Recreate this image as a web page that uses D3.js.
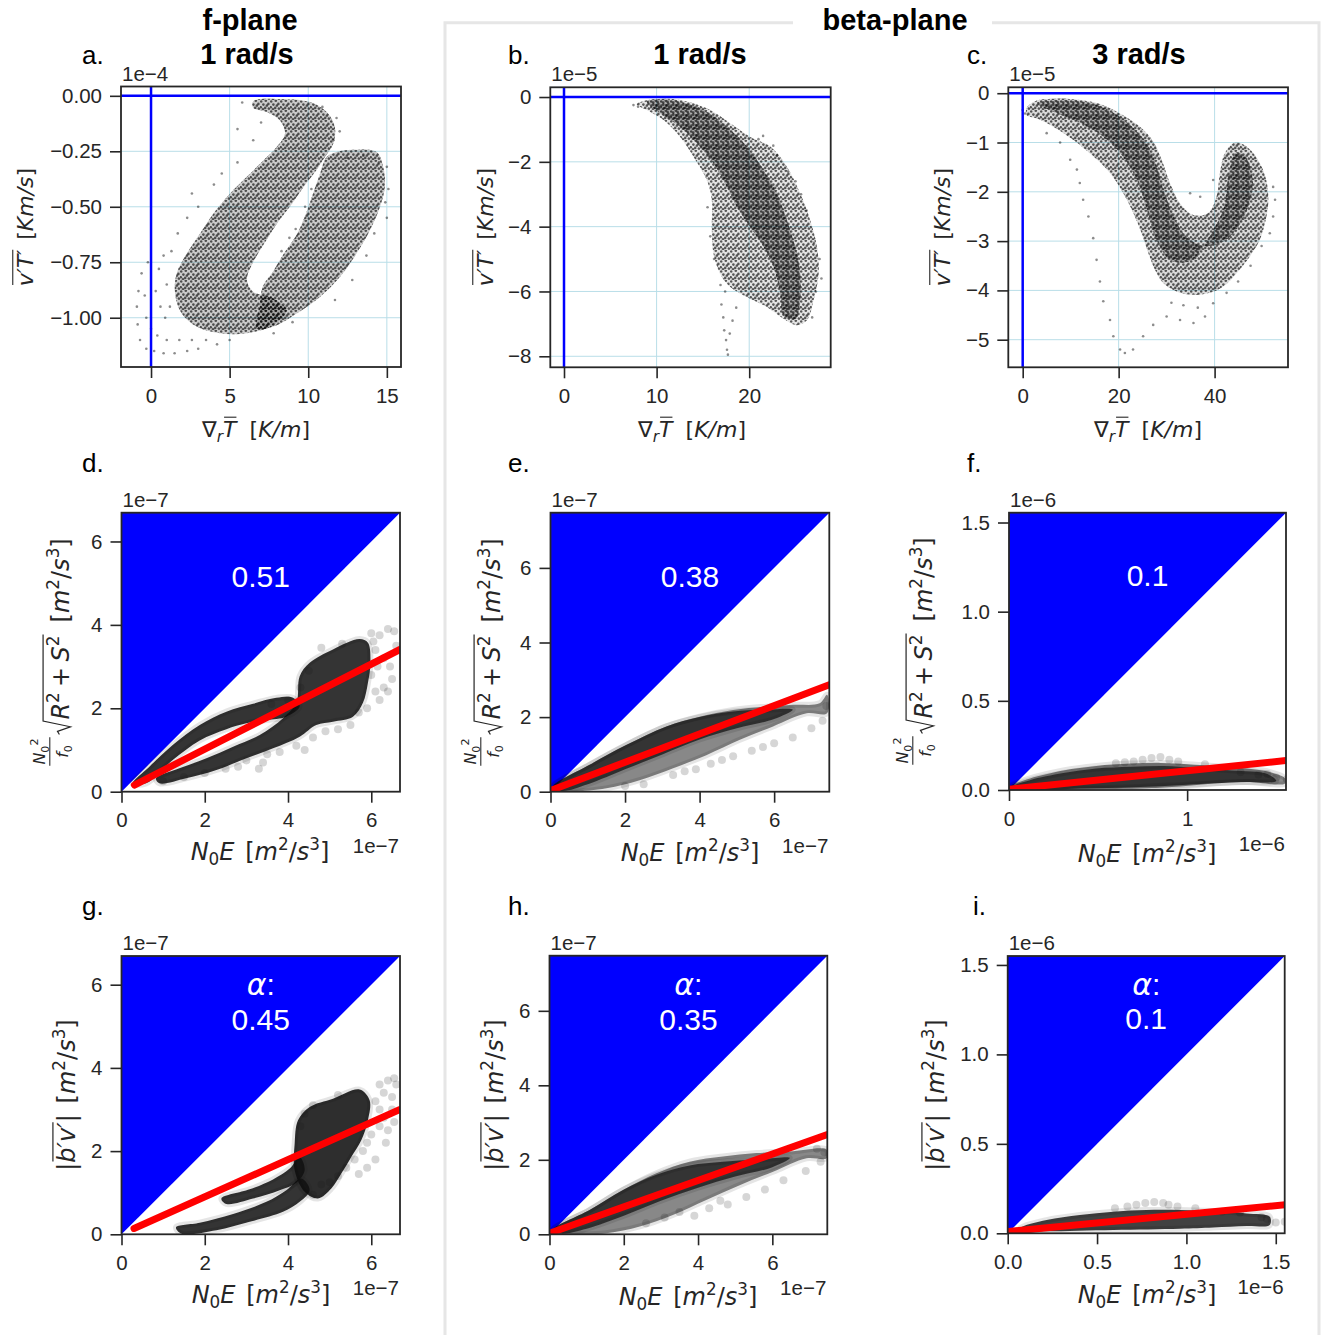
<!DOCTYPE html>
<html>
<head>
<meta charset="utf-8">
<script src="https://cdn.jsdelivr.net/npm/d3@7"></script>
<style>
  body { margin: 0; background: #fff; }
</style>
</head>
<body>
<script>
// ---- data ----
// top row: x = grad_r T  [K/m], y = v'T' (units of the offset, 1e-4 / 1e-5 / 1e-5)
const xTicksA = [0, 5, 10, 15], yTicksA = [0, -0.25, -0.5, -0.75, -1];
const xTicksB = [0, 10, 20], yTicksB = [0, -2, -4, -6, -8];
const xTicksC = [0, 20, 40], yTicksC = [0, -1, -2, -3, -4, -5];
const ticksDE = [0, 2, 4, 6];
const xTicksF = [0, 1], yTicksF = [0, 0.5, 1, 1.5];
const ticksI = [0, 0.5, 1, 1.5];

const offsets = ["1e\u22124", "1e\u22125", "1e\u22125", "1e\u22127", "1e\u22127", "1e\u22126", "1e\u22127", "1e\u22127", "1e\u22126"];
const colTitles = ["1 rad/s", "1 rad/s", "3 rad/s"];
const panelLetters = ["a.", "b.", "c.", "d.", "e.", "f.", "g.", "h.", "i."];
const fitRatios = ["0.51", "0.38", "0.1", "0.45", "0.35", "0.1"];

// panel a: outline of the two dense arms + sparse points
const aLeftArm = [[6.50,-0.024],[8.41,-0.015],[10.11,-0.028],[11.17,-0.073],[11.69,-0.141],[11.59,-0.216],[11.06,-0.276],[10.5,-0.336],[9.7,-0.411],[8.9,-0.493],[8.0,-0.576],[7.2,-0.666],[6.45,-0.756],[6.1,-0.831],[6.50,-0.883],[7.78,-0.913],[8.62,-0.966],[7.78,-1.033],[6.08,-1.070],[4.39,-1.070],[2.90,-1.040],[1.95,-0.981],[1.53,-0.891],[1.63,-0.801],[2.27,-0.711],[3.11,-0.621],[3.96,-0.531],[5.02,-0.441],[6.08,-0.366],[7.14,-0.291],[7.99,-0.231],[8.52,-0.171],[8.20,-0.111],[7.35,-0.073],[6.50,-0.054]];
const aRightArm = [[11.17,-0.276],[11.80,-0.253],[12.86,-0.243],[14.34,-0.253],[14.77,-0.321],[14.87,-0.411],[14.56,-0.501],[13.92,-0.606],[13.07,-0.711],[12.01,-0.816],[10.74,-0.906],[9.26,-0.981],[7.78,-1.040],[6.72,-1.048],[6.9,-0.951],[7.1,-0.861],[7.75,-0.793],[8.45,-0.711],[9.3,-0.621],[9.85,-0.531],[10.3,-0.441],[10.75,-0.351]];
const aOut = [[-0.6,-0.80],[-0.8,-0.88],[-0.9,-0.95],[-0.85,-1.03],[-0.7,-1.10],[-0.3,-1.14],[0.2,-1.15],[0.8,-1.16],[1.5,-1.16],[2.3,-1.15],[3.0,-1.14],[-0.2,-0.75],[-0.4,-0.90],[-0.3,-1.0],[0.0,-1.05],[0.4,-1.08],[1.0,-1.10],[1.8,-1.10],[2.6,-1.10],[0.5,-0.78],[0.3,-0.88],[0.6,-0.95],[0.9,-1.0],[1.2,-0.95],[1.0,-0.85],[0.8,-0.72],[1.3,-0.70],[1.7,-0.62],[2.3,-0.55],[3.0,-0.50],[2.6,-0.44],[4.0,-0.40],[4.5,-0.35],[5.5,-0.30],[6.5,-0.20],[5.5,-0.15],[7.0,-0.12],[5.8,-0.03],[3.5,-1.10],[4.2,-1.12],[5.0,-1.10],[7.8,-1.07],[9.0,-1.02],[15.0,-0.32],[15.1,-0.42],[14.9,-0.48],[15.0,-0.55],[14.2,-0.62],[13.7,-0.72],[12.8,-0.83],[11.7,-0.92],[12.5,-0.28],[13.5,-0.27],[14.5,-0.30],[9.2,-0.60],[8.8,-0.64],[9.8,-0.50],[8.3,-0.70],[10.2,-0.42],[11.8,-0.10],[11.6,-0.20],[10.9,-0.05],[12.0,-0.16]];

// panel b
const bFringe = [[7.86,-0.22],[9.66,-0.07],[12.54,-0.09],[15.42,-0.35],[17.95,-0.81],[20.11,-1.23],[22.27,-1.53],[24.07,-2.15],[25.51,-2.98],[26.59,-3.80],[27.32,-4.62],[27.50,-5.45],[26.95,-6.27],[26.23,-6.89],[25.15,-7.04],[23.71,-6.84],[21.91,-6.48],[19.75,-6.17],[17.95,-5.86],[16.86,-5.45],[16.14,-4.83],[15.96,-4.01],[15.96,-3.18],[15.42,-2.56],[13.98,-1.84],[12.54,-1.23],[10.74,-0.71],[8.94,-0.40]];
const bCore = [[8.94,-0.14],[11.82,-0.11],[15.06,-0.40],[17.59,-0.92],[19.75,-1.53],[21.55,-2.26],[22.99,-2.98],[24.07,-3.80],[24.97,-4.62],[25.51,-5.45],[25.51,-6.27],[24.97,-6.84],[23.71,-6.74],[23.35,-6.07],[22.63,-5.24],[21.55,-4.62],[20.11,-4.01],[18.67,-3.39],[17.59,-2.77],[16.14,-2.05],[14.34,-1.43],[12.54,-0.92],[10.38,-0.50]];
const bOut = [[17.0,-6.4],[17.2,-6.8],[17.3,-7.2],[17.5,-7.5],[17.6,-7.8],[17.7,-7.95],[17.9,-7.3],[18.2,-6.9],[18.6,-6.5],[17.4,-6.0],[21.0,-1.3],[21.5,-1.2],[22.6,-1.5],[23.0,-1.8],[24.2,-2.3],[25.0,-2.6],[25.6,-3.0],[26.2,-3.5],[27.0,-4.5],[27.6,-5.0],[27.8,-5.6],[27.2,-6.0],[26.8,-6.8],[15.5,-3.4],[15.8,-4.3],[16.2,-5.0],[16.9,-5.8],[8.0,-0.3],[7.5,-0.25]];

// panel c
const cBand = [[0.83,-0.30],[2.92,-0.15],[7.08,-0.11],[11.94,-0.14],[16.11,-0.22],[20.28,-0.41],[24.44,-0.68],[27.22,-0.98],[28.96,-1.35],[30.69,-1.82],[32.78,-2.23],[35.56,-2.47],[38.68,-2.43],[40.42,-2.09],[41.11,-1.62],[42.15,-1.22],[44.24,-1.00],[47.01,-1.11],[49.44,-1.42],[50.83,-1.79],[51.18,-2.23],[50.49,-2.64],[49.44,-2.97],[47.36,-3.31],[44.58,-3.65],[41.81,-3.92],[39.03,-4.05],[35.56,-4.09],[32.08,-4.02],[29.31,-3.85],[27.57,-3.58],[26.18,-3.24],[24.79,-2.84],[23.06,-2.43],[20.97,-2.03],[18.19,-1.62],[14.72,-1.28],[10.56,-0.95],[6.39,-0.68],[2.92,-0.51],[0.83,-0.44]];
const cCore = [[3,-0.2],[8,-0.15],[14,-0.2],[19,-0.4],[23,-0.7],[26,-1.05],[28,-1.5],[29.5,-2.0],[31.5,-2.5],[34,-2.9],[38,-3.1],[42,-3.0],[45,-2.7],[47,-2.3],[48,-1.8],[46.5,-1.3],[44.5,-1.2],[43,-1.6],[42,-2.3],[39,-2.9],[35,-3.4],[31,-3.4],[28,-3.0],[26,-2.4],[24,-1.8],[21,-1.3],[17,-0.9],[12,-0.6],[7,-0.4]];
const cOut = [[11.9,-1.82],[12.6,-2.16],[13.7,-2.5],[14.7,-2.94],[15.4,-3.38],[16.1,-3.82],[16.8,-4.22],[18.2,-4.6],[18.9,-4.93],[20.3,-5.2],[21.3,-5.27],[23.0,-5.2],[25.1,-4.93],[27.2,-4.7],[30.0,-4.53],[32.8,-4.6],[35.6,-4.66],[38.0,-4.53],[39.7,-4.26],[42.5,-4.05],[44.9,-3.82],[52.2,-1.9],[52.6,-2.16],[52.2,-2.5],[51.5,-2.84],[39.7,-1.76],[37.0,-2.1],[34.9,-2.03],[0.0,-0.34],[0.5,-0.41],[5.0,-0.81],[7.8,-1.0],[9.9,-1.35],[11.3,-1.55],[33.5,-4.3],[36.5,-4.35],[31.0,-4.25],[47.5,-3.5],[49.8,-3.1]];

// middle row: x = N0 E, y = N0^2/f0 sqrt(R^2+S^2)
const dUpper = [[0.27,0.20],[0.67,0.60],[1.23,1.12],[1.88,1.60],[2.52,1.92],[3.16,2.11],[3.72,2.25],[4.12,2.25],[4.28,2.04],[3.96,1.80],[3.48,1.72],[3.00,1.64],[2.52,1.50],[1.88,1.23],[1.23,0.76],[0.59,0.20]];
const dLower = [[0.83,0.32],[1.39,0.56],[2.04,0.80],[2.68,1.08],[3.32,1.36],[3.88,1.76],[4.20,2.13],[4.28,2.77],[4.52,3.09],[5.08,3.41],[5.72,3.66],[5.92,3.57],[5.98,3.09],[5.92,2.61],[5.80,2.13],[5.56,1.80],[5.08,1.68],[4.68,1.60],[4.28,1.32],[3.64,1.04],[3.00,0.80],[2.28,0.52],[1.55,0.32],[0.91,0.20]];
const dOut = [[2.0,0.45],[2.5,0.55],[3.0,0.75],[3.5,0.9],[3.8,0.95],[4.2,1.1],[4.6,1.3],[4.9,1.45],[5.2,1.5],[5.5,1.6],[1.5,0.35],[1.0,0.25],[2.8,0.6],[3.4,0.7],[6.0,3.8],[6.2,3.75],[6.4,3.9],[6.55,3.85],[6.1,3.4],[6.3,3.2],[6.45,3.0],[6.5,2.7],[6.3,2.5],[6.1,2.4],[6.6,3.5],[6.4,2.4],[6.2,2.2],[5.9,2.0],[6.0,2.8],[4.8,3.45],[5.3,3.55],[4.5,2.9],[4.3,2.5],[4.0,2.2],[3.6,2.1],[6.05,3.6],[6.15,3.0],[5.7,1.9],[4.4,1.0],[3.3,0.55]];
const dFit = [[0.31,0.16],[6.69,3.41]];

const eBand = [[0.06,0.13],[1.05,0.72],[2.03,1.25],[3.11,1.75],[4.00,2.01],[4.90,2.19],[5.79,2.28],[6.51,2.33],[7.22,2.37],[7.42,2.60],[7.42,2.10],[6.87,2.10],[5.97,1.75],[5.08,1.39],[4.18,0.98],[3.29,0.63],[2.39,0.31],[1.50,0.09],[0.60,0.0],[0.06,0.0]];
const eCore = [[0.06,0.13],[1.05,0.72],[2.03,1.25],[3.11,1.75],[4.0,2.0],[4.9,2.15],[5.8,2.2],[6.5,2.2],[6.0,1.95],[5.0,1.7],[4.0,1.4],[3.0,1.0],[2.0,0.6],[1.0,0.2],[0.3,0.02]];
const eOut = [[3.29,0.45],[3.9,0.6],[4.3,0.75],[4.9,0.95],[5.4,1.1],[6.0,1.3],[6.5,1.45],[7.0,1.7],[7.3,1.9],[7.4,2.3],[3.6,0.55],[2.5,0.2],[2.0,0.15],[4.6,0.85],[5.7,1.2]];
const eFit = [[0.0,0.03],[7.48,2.87]];

const fBand = [[0.006,0.019],[0.118,0.065],[0.305,0.11],[0.49,0.135],[0.68,0.148],[0.85,0.152],[1.0,0.145],[1.148,0.135],[1.335,0.12],[1.466,0.10],[1.55,0.065],[1.55,0.037],[1.335,0.045],[1.148,0.037],[0.96,0.02],[0.773,0.01],[0.40,0.004],[0.024,0.0]];
const fCore = [[0.01,0.015],[0.118,0.055],[0.305,0.095],[0.49,0.12],[0.68,0.13],[0.87,0.135],[1.05,0.125],[1.25,0.11],[1.45,0.09],[1.5,0.05],[1.3,0.045],[1.0,0.03],[0.7,0.015],[0.4,0.008],[0.02,0.0]];
const fOut = [[0.75,0.17],[0.8,0.18],[0.85,0.185],[0.9,0.17],[0.7,0.16],[0.65,0.155],[0.95,0.16],[1.5,0.07],[1.45,0.09],[1.56,0.06],[1.4,0.085],[1.3,0.1],[0.6,0.15],[1.1,0.145]];
const fFit = [[0.005,0.005],[1.555,0.165]];

// bottom row: y = |b'v'|
const gLowArm = [[1.31,0.17],[1.88,0.28],[2.68,0.49],[3.48,0.78],[3.96,1.06],[4.32,1.34],[4.52,1.06],[4.28,0.78],[3.88,0.54],[3.08,0.30],[2.28,0.10],[1.43,0.02]];
const gMidArm = [[2.40,0.86],[3.08,1.08],[3.64,1.32],[4.04,1.58],[4.28,1.86],[4.40,1.54],[4.20,1.24],[3.80,1.06],[3.16,0.86],[2.52,0.73]];
const gBlob = [[4.24,2.74],[4.52,3.06],[5.08,3.26],[5.72,3.48],[5.96,3.22],[5.92,2.74],[5.76,2.26],[5.52,1.86],[5.28,1.46],[5.04,1.10],[4.72,0.86],[4.40,1.02],[4.16,1.54],[4.16,2.18]];
const gOut = [[6.2,3.6],[6.4,3.7],[6.55,3.75],[6.6,3.6],[6.3,3.4],[6.1,3.2],[6.2,3.0],[6.3,2.8],[6.2,2.6],[6.0,2.4],[5.9,2.2],[5.8,2.0],[5.6,1.8],[5.4,1.6],[5.2,1.4],[5.0,1.25],[6.5,3.3],[6.5,3.0],[6.4,2.5],[6.55,2.7],[6.35,2.2],[6.1,1.8],[5.9,1.6],[5.7,1.45],[4.8,1.2],[4.6,0.95],[4.4,2.9],[4.3,2.6],[4.6,3.1],[5.2,3.35]];
const gFit = [[0.30,0.14],[6.69,3.0]];

const hBand = [[0.09,0.12],[1.08,0.65],[1.98,1.19],[2.88,1.64],[3.77,1.95],[4.67,2.09],[5.57,2.18],[6.47,2.22],[7.46,2.27],[7.46,2.04],[6.92,2.04],[6.02,1.68],[5.12,1.32],[4.22,0.92],[3.32,0.52],[2.43,0.21],[1.53,0.03],[0.63,0.0],[0.09,0.0]];
const hCore = [[0.09,0.12],[1.08,0.65],[1.98,1.19],[2.88,1.6],[3.77,1.85],[4.67,1.95],[5.57,2.0],[6.47,2.05],[6.0,1.8],[5.0,1.55],[4.0,1.25],[3.0,0.9],[2.0,0.5],[1.0,0.15],[0.3,0.02]];
const hOut = [[3.9,0.5],[4.3,0.7],[4.8,0.8],[5.3,1.0],[5.8,1.2],[6.3,1.45],[6.9,1.7],[7.3,1.95],[7.4,2.2],[7.2,2.3],[4.6,0.9],[3.5,0.6],[3.1,0.45],[2.6,0.3]];
const hFit = [[0.0,0.03],[7.48,2.68]];

const iBand = [[0.069,0.028],[0.218,0.074],[0.404,0.102],[0.591,0.121],[0.777,0.13],[0.963,0.13],[1.15,0.124],[1.336,0.111],[1.466,0.093],[1.466,0.046],[1.336,0.041],[1.15,0.033],[0.963,0.026],[0.591,0.019],[0.218,0.011],[0.069,0.009]];
const iOut = [[0.72,0.16],[0.77,0.17],[0.82,0.175],[0.87,0.17],[0.9,0.16],[0.67,0.15],[0.6,0.14],[0.95,0.15],[1.05,0.14],[1.5,0.06],[1.55,0.065],[1.45,0.08],[1.42,0.09],[1.3,0.115],[1.2,0.12]];
const iFit = [[0.005,0.01],[1.555,0.16]];

// ---- drawing ----
const W = 1322, H = 1335;
const INK = "#262626";
const TF = "'Liberation Sans', Arial, Helvetica, sans-serif";
const MF = "'DejaVu Sans', sans-serif";
const TICK_FS = "20.5px";

const svg = d3.select("body").append("svg").attr("width", W).attr("height", H);
svg.append("rect").attr("width", W).attr("height", H).attr("fill", "#fff");
const defs = svg.append("defs");

// stipple textures for the dense point clouds of the top row
function stipple(id, dots, op) {
  defs.append("pattern").attr("id", id)
    .attr("width", 10).attr("height", 10).attr("patternUnits", "userSpaceOnUse")
    .selectAll("circle").data(dots).join("circle")
      .attr("cx", d => d[0]).attr("cy", d => d[1]).attr("r", 1.3)
      .attr("fill", "#000").attr("fill-opacity", op);
}
stipple("stip", [[1.2,1.5],[5.8,0.8],[3.4,4.6],[8.4,3.9],[0.8,7.2],[5.2,7.9],[8.9,8.6],[3.0,9.2],[6.9,5.6]], 0.62);
stipple("stip2", [[3.2,2.6],[7.6,1.9],[1.4,5.6],[6.1,5.4],[9.2,6.6],[3.9,8.1],[7.2,9.0]], 0.6);

// grey frame round the beta-plane columns
svg.append("path")
  .attr("d", "M793,22.7 H445 V1335 M992,22.7 H1319 V1335")
  .attr("fill", "none").attr("stroke", "#e6e6e6").attr("stroke-width", 3);

// lay out rich (math-like) labels piece by piece
function layout(parent, parts, S) {
  let cx = 0, sx = 0;
  parts.forEach(p => {
    if (p.gap) { cx += p.gap * S; return; }
    if (p.sqrt0) { sx = cx; cx += 0.62 * S; return; }
    if (p.sqrt1) {
      parent.append("path")
        .attr("d", `M${sx},${-0.40*S} L${sx+0.13*S},${-0.48*S} L${sx+0.32*S},${0.06*S} L${sx+0.56*S},${-1.08*S} H${cx+0.05*S}`)
        .attr("fill", "none").attr("stroke", INK).attr("stroke-width", 0.05 * S);
      cx += 0.1 * S; return;
    }
    if (p.frac) {
      const fs = S * 0.66;
      const num = parent.append("g"), den = parent.append("g");
      const wn = layout(num, p.frac[0], fs), wd = layout(den, p.frac[1], fs);
      const w = Math.max(wn, wd) + S * 0.1;
      num.attr("transform", `translate(${cx + (w - wn) / 2},${-S * 1.0})`);
      den.attr("transform", `translate(${cx + (w - wd) / 2},${-S * 0.05})`);
      parent.append("line").attr("x1", cx).attr("x2", cx + w)
        .attr("y1", -S * 0.8).attr("y2", -S * 0.8)
        .attr("stroke", INK).attr("stroke-width", S * 0.045);
      cx += w + S * 0.12; return;
    }
    const t = parent.append("text")
      .attr("x", cx).attr("y", (p.dy || 0) * S)
      .attr("fill", INK)
      .style("font-family", MF).style("font-size", (S * (p.s || 1)) + "px")
      .style("font-style", p.it ? "italic" : "normal")
      .text(p.t);
    const w = t.node().getComputedTextLength();
    if (p.ov) {
      parent.append("line").attr("x1", cx + 0.05 * S).attr("x2", cx + w)
        .attr("y1", -p.ov * S).attr("y2", -p.ov * S)
        .attr("stroke", INK).attr("stroke-width", 0.05 * S);
    }
    cx += w + (p.k || 0) * S;
  });
  return cx;
}

function label(x0, y0, rotated, parts, S) {
  const outer = svg.append("g")
    .attr("transform", `translate(${x0},${y0})` + (rotated ? " rotate(-90)" : ""));
  const inner = outer.append("g");
  const w = layout(inner, parts, S);
  inner.attr("transform", `translate(${-w / 2},0)`);
}

const unitsM2S3 = [{t: "["}, {t: "m", it: 1}, {t: "2", s: 0.7, dy: -0.42}, {t: "/"}, {t: "s", it: 1}, {t: "3", s: 0.7, dy: -0.42}, {t: "]"}];
const labTopX = [{t: "\u2207"}, {t: "r", it: 1, s: 0.7, dy: 0.22}, {t: "T", it: 1, ov: 0.9}, {gap: 0.6}, {t: "["}, {t: "K/m", it: 1}, {t: "]"}];
const labTopY = [{t: "v\u2032T\u2032", it: 1, ov: 0.92}, {gap: 0.45}, {t: "["}, {t: "Km/s", it: 1}, {t: "]"}];
const labEX = [{t: "N", it: 1}, {t: "0", s: 0.7, dy: 0.22}, {t: "E", it: 1}, {gap: 0.45}].concat(unitsM2S3);
const labRS = [{frac: [[{t: "N", it: 1}, {t: "0", s: 0.7, dy: 0.25}, {t: "2", s: 0.7, dy: -0.45}], [{t: "f", it: 1}, {t: "0", s: 0.7, dy: 0.25}]]},
  {sqrt0: 1}, {t: "R", it: 1}, {t: "2", s: 0.7, dy: -0.42}, {gap: 0.22}, {t: "+"}, {gap: 0.22}, {t: "S", it: 1}, {t: "2", s: 0.7, dy: -0.42}, {sqrt1: 1}, {gap: 0.45}].concat(unitsM2S3);
const labBV = [{t: "|"}, {t: "b\u2032v\u2032", it: 1, ov: 0.92}, {t: "|"}, {gap: 0.45}].concat(unitsM2S3);

const f2 = d3.format(".2f"), f1 = d3.format(".1f"), fd = d3.format("d");

const panels = [
  {L: 121, R: 401, T: 86.5, B: 367, xd: [-1.91, 15.9], yd: [-1.222, 0.042], xt: xTicksA, yt: yTicksA, xf: fd, yf: f2,
   top: 1, clouds: [{pts: aLeftArm, pat: "stip", u: 0.2}, {pts: aRightArm, pat: "stip", u: 0.2}], out: aOut,
   xl: [256, 437], yl: [33, 227]},
  {L: 550.3, R: 830.7, T: 87.3, B: 367.3, xd: [-1.48, 28.8], yd: [-8.34, 0.3], xt: xTicksB, yt: yTicksB, xf: fd, yf: fd,
   top: 1, clouds: [{pts: bFringe, pat: "stip", u: 0.1}, {pts: bCore, pat: "stip2", u: 0.25}], out: bOut,
   xl: [692, 437], yl: [493, 227]},
  {L: 1008.3, R: 1288, T: 87.3, B: 367.3, xd: [-3.0, 55.3], yd: [-5.56, 0.12], xt: xTicksC, yt: yTicksC, xf: fd, yf: fd,
   top: 1, clouds: [{pts: cBand, pat: "stip", u: 0.14}, {pts: cCore, pat: "stip2", u: 0.2}], out: cOut,
   xl: [1148, 437], yl: [950, 227]},
  {L: 121.5, R: 400, T: 512.7, B: 791.7, xd: [0, 6.69], yd: [0, 6.69], xt: ticksDE, yt: ticksDE, xf: fd, yf: fd,
   clouds: [{pts: dUpper, op: 0.85}, {pts: dLower, op: 0.85}], out: dOut, fit: dFit, ratio: fitRatios[0],
   xl: [260, 860], yl: [69, 652], ylab: labRS},
  {L: 550.5, R: 829.3, T: 512.7, B: 791.7, xd: [0, 7.48], yd: [0, 7.48], xt: ticksDE, yt: ticksDE, xf: fd, yf: fd,
   clouds: [{pts: eBand, op: 0.5}, {pts: eCore, op: 0.7}], out: eOut, fit: eFit, ratio: fitRatios[1],
   xl: [690, 861], yl: [500, 652], ylab: labRS},
  {L: 1009, R: 1286, T: 512.7, B: 790, xd: [0, 1.555], yd: [0, 1.555], xt: xTicksF, yt: yTicksF, xf: fd, yf: f1,
   clouds: [{pts: fBand, op: 0.5}, {pts: fCore, op: 0.7}], out: fOut, fit: fFit, ratio: fitRatios[2],
   xl: [1147, 862], yl: [932, 651], ylab: labRS},
  {L: 121.5, R: 400, T: 956, B: 1234.3, xd: [0, 6.69], yd: [0, 6.69], xt: ticksDE, yt: ticksDE, xf: fd, yf: fd,
   clouds: [{pts: gLowArm, op: 0.85}, {pts: gMidArm, op: 0.85}, {pts: gBlob, op: 0.88}], out: gOut, fit: gFit, ratio: fitRatios[3], alpha: 1,
   xl: [261, 1303], yl: [75, 1095], ylab: labBV},
  {L: 549.5, R: 827.3, T: 955.7, B: 1234.3, xd: [0, 7.48], yd: [0, 7.48], xt: ticksDE, yt: ticksDE, xf: fd, yf: fd,
   clouds: [{pts: hBand, op: 0.5}, {pts: hCore, op: 0.7}], out: hOut, fit: hFit, ratio: fitRatios[4], alpha: 1,
   xl: [688, 1305], yl: [503, 1095], ylab: labBV},
  {L: 1007.7, R: 1284.7, T: 956, B: 1233.3, xd: [0, 1.55], yd: [0, 1.55], xt: ticksI, yt: ticksI, xf: f1, yf: f1,
   clouds: [{pts: iBand, op: 0.8}], out: iOut, fit: iFit, ratio: fitRatios[5], alpha: 1,
   xl: [1147, 1303], yl: [944, 1095], ylab: labBV}
];

panels.forEach((p, i) => {
  const x = d3.scaleLinear().domain(p.xd).range([p.L, p.R]);
  const y = d3.scaleLinear().domain(p.yd).range([p.B, p.T]);
  const g = svg.append("g");
  defs.append("clipPath").attr("id", "clip" + i).append("rect")
    .attr("x", p.L).attr("y", p.T).attr("width", p.R - p.L).attr("height", p.B - p.T);
  const plot = g.append("g").attr("clip-path", `url(#clip${i})`);
  const line = d3.line().x(d => x(d[0])).y(d => y(d[1]));
  const blob = d3.line().x(d => x(d[0])).y(d => y(d[1])).curve(d3.curveCatmullRomClosed.alpha(0.5));

  if (p.top) {
    plot.selectAll("line.gx").data(p.xt).join("line").attr("class", "gx")
      .attr("x1", d => x(d)).attr("x2", d => x(d)).attr("y1", p.T).attr("y2", p.B)
      .attr("stroke", "#b9dee8").attr("stroke-width", 1);
    plot.selectAll("line.gy").data(p.yt).join("line").attr("class", "gy")
      .attr("y1", d => y(d)).attr("y2", d => y(d)).attr("x1", p.L).attr("x2", p.R)
      .attr("stroke", "#b9dee8").attr("stroke-width", 1);
    p.clouds.forEach(c => {
      plot.append("path").attr("d", blob(c.pts)).attr("fill", "#000").attr("fill-opacity", c.u);
      plot.append("path").attr("d", blob(c.pts)).attr("fill", `url(#${c.pat})`);
    });
    plot.selectAll("circle.o").data(p.out).join("circle").attr("class", "o")
      .attr("cx", d => x(d[0])).attr("cy", d => y(d[1])).attr("r", 1.3)
      .attr("fill", "#000").attr("fill-opacity", 0.45);
    plot.append("line").attr("x1", x(0)).attr("x2", x(0)).attr("y1", p.T).attr("y2", p.B)
      .attr("stroke", "#0000ff").attr("stroke-width", 2.5);
    plot.append("line").attr("x1", p.L).attr("x2", p.R).attr("y1", y(0)).attr("y2", y(0))
      .attr("stroke", "#0000ff").attr("stroke-width", 2.5);
  } else {
    const M = p.xd[1];
    plot.append("path").attr("d", line([[0, 0], [0, M], [M, M]]) + "Z").attr("fill", "#0000ff");
    plot.selectAll("circle.o").data(p.out).join("circle").attr("class", "o")
      .attr("cx", d => x(d[0])).attr("cy", d => y(d[1])).attr("r", 4)
      .attr("fill", "#000").attr("fill-opacity", 0.16);
    p.clouds.forEach(c => {
      plot.append("path").attr("d", blob(c.pts))
        .attr("fill", "#111").attr("fill-opacity", c.op)
        .attr("stroke", "#000").attr("stroke-opacity", 0.1).attr("stroke-width", 6)
        .attr("stroke-linejoin", "round");
    });
    plot.append("path").attr("d", line(p.fit))
      .attr("fill", "none").attr("stroke", "#ff0000").attr("stroke-width", 7).attr("stroke-linecap", "round");
    const cxT = (p.L + p.R) / 2;
    const ty = f => p.B - f * (p.B - p.T);
    if (p.alpha) {
      const a = g.append("text").attr("x", cxT).attr("y", ty(0.86)).attr("text-anchor", "middle")
        .attr("fill", "#fff").style("font-size", "30px");
      a.append("tspan").style("font-family", MF).style("font-style", "italic").text("\u03b1");
      a.append("tspan").style("font-family", TF).text(":");
    }
    g.append("text").attr("x", cxT).attr("y", ty(0.735)).attr("text-anchor", "middle")
      .attr("fill", "#fff").style("font-family", TF).style("font-size", "30px").text(p.ratio);
    // offset text at the bottom right of the x axis
    g.append("text").attr("x", p.R - 1).attr("y", p.B + 61).attr("text-anchor", "end")
      .attr("fill", INK).style("font-family", TF).style("font-size", TICK_FS).text(offsets[i]);
  }

  g.append("rect").attr("x", p.L).attr("y", p.T).attr("width", p.R - p.L).attr("height", p.B - p.T)
    .attr("fill", "none").attr("stroke", INK).attr("stroke-width", 1.8);

  const ax = g.append("g").attr("transform", `translate(0,${p.B})`)
    .call(d3.axisBottom(x).tickValues(p.xt).tickFormat(p.xf).tickSize(11).tickPadding(10));
  const ay = g.append("g").attr("transform", `translate(${p.L},0)`)
    .call(d3.axisLeft(y).tickValues(p.yt).tickFormat(p.yf).tickSize(11).tickPadding(8));
  [ax, ay].forEach(a => {
    a.select(".domain").remove();
    a.selectAll("line").attr("stroke", INK).attr("stroke-width", 1.6);
    a.selectAll("text").attr("fill", INK).style("font-family", TF).style("font-size", TICK_FS);
  });

  // offset text above the y axis
  g.append("text").attr("x", p.L + 1).attr("y", p.T - 6)
    .attr("fill", INK).style("font-family", TF).style("font-size", TICK_FS).text(offsets[i]);

  // panel letter
  const row = Math.floor(i / 3), col = i % 3;
  svg.append("text").attr("x", [82, 508, 967][col] + (i === 8 ? 6 : 0)).attr("y", [64, 472, 915][row])
    .attr("fill", "#000").style("font-family", TF).style("font-size", "26px").text(panelLetters[i]);

  // axis labels
  if (p.top) {
    label(p.xl[0], p.xl[1], false, labTopX, 22);
    label(p.yl[0], p.yl[1], true, labTopY, 22);
  } else {
    label(p.xl[0], p.xl[1], false, labEX, 24);
    label(p.yl[0], p.yl[1], true, p.ylab, 24);
  }
});

// column titles
const title = (x, y, t) => svg.append("text").attr("x", x).attr("y", y).attr("text-anchor", "middle")
  .attr("fill", "#000").style("font-family", TF).style("font-weight", "bold").style("font-size", "29px").text(t);
title(250, 30, "f-plane");
title(895, 30, "beta-plane");
title(247, 64, colTitles[0]);
title(700, 64, colTitles[1]);
title(1139, 64, colTitles[2]);
</script>
</body>
</html>
